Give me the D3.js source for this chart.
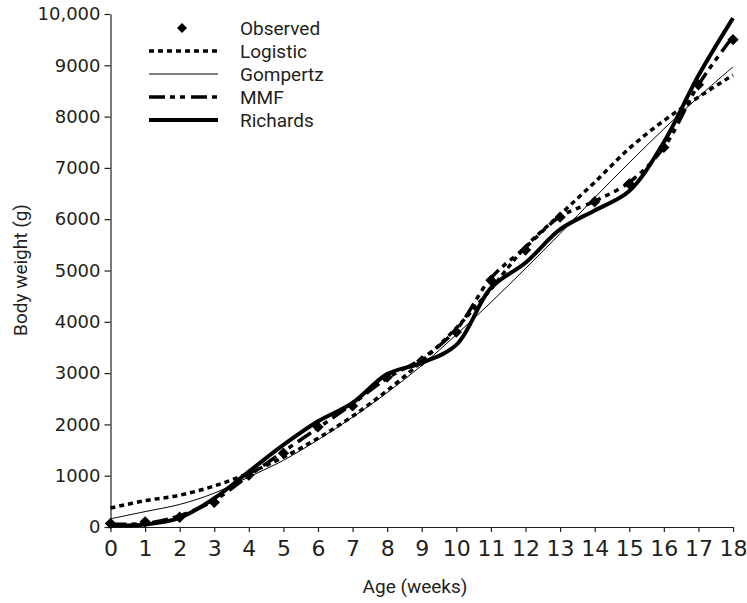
<!DOCTYPE html>
<html>
<head>
<meta charset="utf-8">
<script src="https://cdn.jsdelivr.net/npm/d3@7"></script>
<style>
  body { margin: 0; background: #fff; }
  svg { display: block; }
  .axis path, .axis line { stroke: #231f20; stroke-width: 1.2; }
  .axis text { font-family: 'DejaVu Sans', sans-serif; fill: #231f20; }
  .label { font-family: Roboto, 'DejaVu Sans', sans-serif; font-size: 19px; fill: #231f20; }
</style>
</head>
<body>
<svg id="chart" width="747" height="603"></svg>
<script>
'use strict';

// Edad en semanas y pesos (g)
var weeks = d3.range(0, 19);
var observed = [70, 100, 190, 480, 1010, 1440, 1950, 2360, 2920, 3240, 3800, 4810, 5400, 6040, 6340, 6690, 7400, 8620, 9500];
var logistic = [370, 513, 620, 800, 1050, 1360, 1730, 2160, 2660, 3230, 3880, 4640, 5460, 6090, 6720, 7380, 7920, 8380, 8810];
var gompertz = [160, 300, 440, 660, 975, 1300, 1700, 2140, 2620, 3150, 3750, 4380, 5040, 5720, 6420, 7100, 7760, 8380, 8970];
var mmf = [60, 70, 220, 520, 1000, 1470, 1930, 2400, 2900, 3280, 3850, 4850, 5450, 6050, 6350, 6720, 7400, 8620, 9560];
var richards = [30, 50, 180, 560, 1080, 1600, 2060, 2420, 2980, 3200, 3550, 4660, 5150, 5800, 6170, 6550, 7500, 8800, 9920];
var yTicks = d3.range(0, 10001, 1000);
var legendNames = ['Observed', 'Logistic', 'Gompertz', 'MMF', 'Richards'];

function growthChart() {
    var svg = d3.select('#chart');
    var scales = {};

    var curves = [
        { name: 'Gompertz', values: gompertz, width: 1, dash: null },
        { name: 'Logistic', values: logistic, width: 3.5, dash: '5,4' },
        { name: 'MMF', values: mmf, width: 3.5, dash: '16,5,5,5,5,6' },
        { name: 'Richards', values: richards, width: 4, dash: null }
    ];

    function setupScales() {
        scales.x = d3.scaleLinear().domain([0, 18]).range([110.5, 733]);
        scales.y = d3.scaleLinear().domain([0, 10000]).range([527, 14]);
    }

    function drawAxes() {
        var axisX = d3.axisBottom(scales.x).tickValues(weeks).tickSize(5).tickSizeOuter(0).tickPadding(8);
        svg.append('g').attr('class', 'axis axis-x')
            .attr('transform', 'translate(0,' + scales.y(0) + ')')
            .call(axisX)
            .selectAll('text').style('font-size', '22px');

        var axisY = d3.axisLeft(scales.y).tickValues(yTicks).tickSize(6).tickSizeOuter(0).tickPadding(4)
            .tickFormat(function (d) { return d === 10000 ? '10,000' : d; });
        svg.append('g').attr('class', 'axis axis-y')
            .attr('transform', 'translate(' + scales.x(0) + ',0)')
            .call(axisY)
            .selectAll('text').style('font-size', '18px');

        svg.append('text').attr('class', 'label')
            .attr('x', 415).attr('y', 593).attr('text-anchor', 'middle')
            .text('Age (weeks)');

        svg.append('text').attr('class', 'label')
            .attr('transform', 'translate(27,270) rotate(-90)')
            .attr('text-anchor', 'middle')
            .text('Body weight (g)');
    }

    function drawSeries() {
        var line = d3.line()
            .x(function (d, i) { return scales.x(weeks[i]); })
            .y(function (d) { return scales.y(d); })
            .curve(d3.curveCatmullRom);

        svg.append('g').selectAll('path').data(curves).enter().append('path')
            .attr('d', function (c) { return line(c.values); })
            .attr('fill', 'none')
            .attr('stroke', '#000')
            .attr('stroke-width', function (c) { return c.width; })
            .attr('stroke-dasharray', function (c) { return c.dash; });

        var diamond = d3.symbol().type(d3.symbolSquare).size(64);
        svg.append('g').selectAll('path').data(observed).enter().append('path')
            .attr('d', diamond)
            .attr('fill', '#000')
            .attr('transform', function (d, i) {
                return 'translate(' + scales.x(weeks[i]) + ',' + scales.y(d) + ') rotate(45)';
            });
    }

    function drawLegend() {
        var g = svg.append('g').attr('class', 'legend').attr('transform', 'translate(149,28)');
        var rows = g.selectAll('g').data(legendNames).enter().append('g')
            .attr('transform', function (d, i) { return 'translate(0,' + i * 23 + ')'; });

        rows.each(function (name) {
            var row = d3.select(this);
            var style = curves.find(function (c) { return c.name === name; });
            if (!style) {
                row.append('path')
                    .attr('d', d3.symbol().type(d3.symbolSquare).size(50))
                    .attr('transform', 'translate(33,0) rotate(45)')
                    .attr('fill', '#000');
            } else {
                row.append('line')
                    .attr('x1', 0).attr('x2', 69).attr('y1', 0).attr('y2', 0)
                    .attr('stroke', '#000')
                    .attr('stroke-width', style.width)
                    .attr('stroke-dasharray', style.dash);
            }
            row.append('text').attr('class', 'label')
                .attr('x', 91).attr('y', 7)
                .text(name);
        });
    }

    setupScales();
    drawAxes();
    drawSeries();
    drawLegend();
}

growthChart();
</script>
</body>
</html>
